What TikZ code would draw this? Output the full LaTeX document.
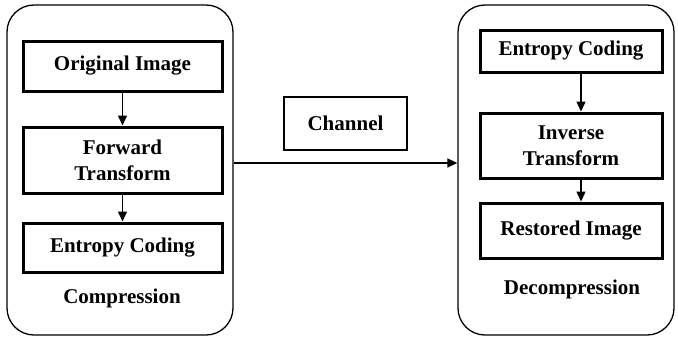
\documentclass[tikz,border=0pt]{standalone}
\usepackage{fontspec}
\setmainfont{Liberation Serif}
\usepackage{tikz}
\usetikzlibrary{positioning, arrows.meta}

\begin{document}
\begin{tikzpicture}[x=1pt, y=-1pt,
    stage/.style={draw, line width=3pt, align=center, inner sep=0pt,
        font=\bfseries\fontsize{21}{26}\selectfont},
    panel/.style={draw, line width=1.3pt, rounded corners=27pt, inner sep=0pt},
    label/.style={font=\bfseries\fontsize{21}{26}\selectfont},
    flow/.style={-{Triangle[length=10pt, width=9pt]}, line width=1.5pt}]
            \useasboundingbox (0,0) rectangle (678,338);

            % Compression side
            \node[panel, minimum width=226pt, minimum height=330pt] (comp) at (120,170) {};
            \node[stage, minimum width=199pt, minimum height=50pt] (orig) at (122.5,66) {Original Image};
            \node[stage, minimum width=199pt, minimum height=66pt] (fwd) at (122.5,160) {Forward\\Transform};
            \node[stage, minimum width=199pt, minimum height=49pt] (enc) at (122.5,247.5) {Entropy Coding};
            \node[label] (complbl) at (122,298) {Compression};
            \draw[flow] (orig) -- (fwd);
            \draw[flow] ([yshift=3pt]fwd.south) -- (enc);

            % Channel
            \node[stage, line width=1.6pt, minimum width=123pt, minimum height=53pt] (chan) at (345.5,123.5) {Channel};

            % Decompression side
            \node[panel, minimum width=216pt, minimum height=330pt] (decomp) at (566,170) {};
            \node[stage, minimum width=182pt, minimum height=42pt] (dec) at (571,51) {Entropy Coding};
            \node[stage, minimum width=182pt, minimum height=65pt] (inv) at (571,145.5) {Inverse\\Transform};
            \node[stage, minimum width=182pt, minimum height=55pt] (rest) at (571,230.5) {Restored Image};
            \node[label] (decomplbl) at (572,289) {Decompression};
            \draw[flow] ([xshift=10pt]dec.south) -- ([xshift=10pt]inv.north);
            \draw[flow] ([xshift=10pt]inv.south) -- ([xshift=10pt]rest.north);

            % link between the two sides
            \draw[flow] ([yshift=7pt]comp.east) -- ([yshift=7pt]decomp.west);
\end{tikzpicture}
\end{document}
